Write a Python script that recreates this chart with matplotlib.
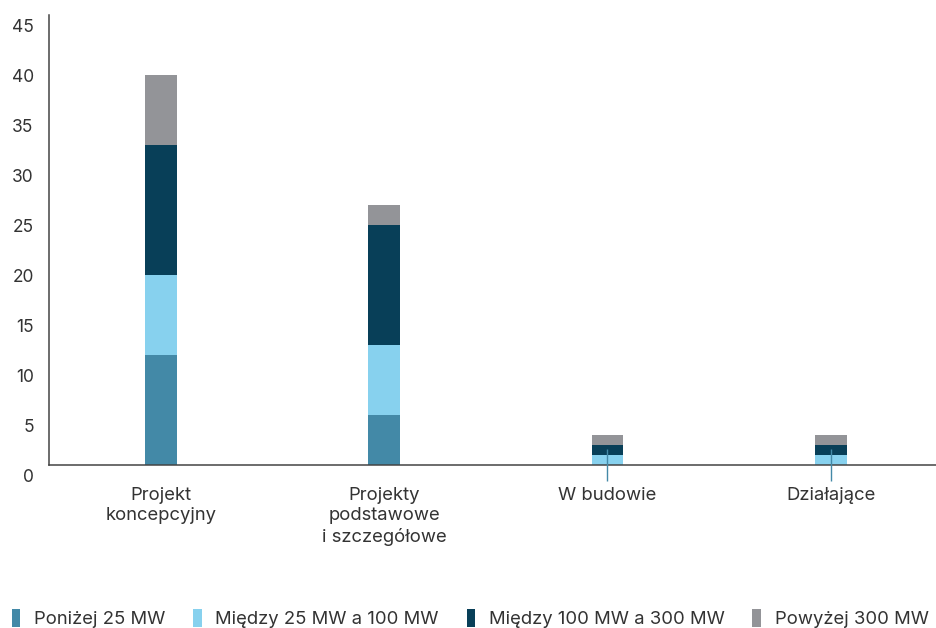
import matplotlib
matplotlib.use("Agg")
import matplotlib.pyplot as plt
from matplotlib.patches import Patch
from matplotlib.transforms import ScaledTranslation
import numpy as np

plt.rcParams['font.family'] = ['Inter', 'DejaVu Sans']

categories = ["Projekt\nkoncepcyjny", "Projekty\npodstawowe\ni szczegółowe", "W budowie", "Działające"]
series_names = ["Poniżej 25 MW", "Między 25 MW a 100 MW", "Między 100 MW a 300 MW", "Powyżej 300 MW"]
below_25 = [11, 5, 0, 0]
from_25_to_100 = [8, 7, 1, 1]
from_100_to_300 = [13, 12, 1, 1]
above_300 = [7, 2, 1, 1]
y_ticks = [0, 5, 10, 15, 20, 25, 30, 35, 40, 45]

colors = ["#4389a7", "#87d1ee", "#083f58", "#939498"]
text_color = "#333333"

fig = plt.figure(figsize=(9.37, 6.28), dpi=100)
ax = fig.add_axes([49 / 937, 163 / 628, 888 / 937, 450 / 628])

x = np.arange(len(categories))
width = 0.143
bottom = np.zeros(len(categories))
for vals, col in zip([below_25, from_25_to_100, from_100_to_300, above_300], colors):
    ax.bar(x, vals, width, bottom=bottom, color=col, zorder=2)
    bottom += np.array(vals)

# thin marker where the smallest group is empty
zero_x = [xi for xi, v in zip(x, below_25) if v == 0]
ax.plot(zero_x, [0] * len(zero_x), linestyle='none', marker='|', ms=23, mew=1,
        color=colors[0], clip_on=False, zorder=3)

ax.set_xlim(-0.5, 3.475)
ax.set_ylim(0, 45)
ax.set_yticks(y_ticks)
ax.set_xticks(x)
ax.set_xticklabels(categories, fontsize=13.3, color=text_color, linespacing=1.25)
ax.tick_params(axis='x', length=0, pad=16)
ax.tick_params(axis='y', length=0, pad=11, labelsize=12.5, labelcolor=text_color)

for s in ['top', 'right']:
    ax.spines[s].set_visible(False)
for s in ['left', 'bottom']:
    ax.spines[s].set_color("#444444")
    ax.spines[s].set_linewidth(1.1)

offset = ScaledTranslation(0, -10 / 100, fig.dpi_scale_trans)
for lab in ax.get_yticklabels():
    lab.set_transform(lab.get_transform() + offset)

handles = [Patch(facecolor=c, edgecolor='none') for c in colors]
fig.legend(handles, series_names, loc='lower left', bbox_to_anchor=(0.005, -0.012),
           ncol=4, frameon=False, fontsize=13.3, handlelength=0.45, handleheight=1.15,
           handletextpad=0.75, columnspacing=1.5, borderaxespad=0,
           labelcolor=text_color)

fig.savefig("out.png", dpi=100)
